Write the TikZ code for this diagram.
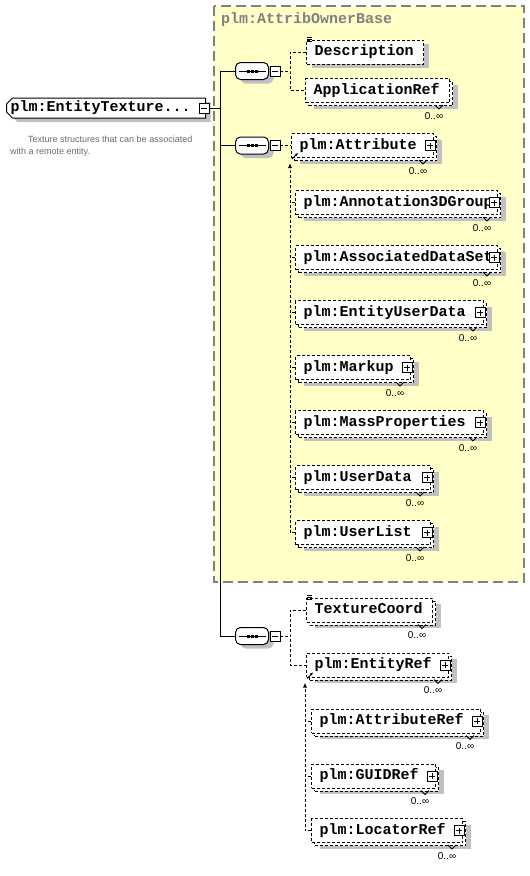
\documentclass[tikz,border=0pt]{standalone}
\usepackage{fontspec}
\setmainfont{Liberation Sans}
\newfontfamily\elemfont[HyphenChar=None]{Liberation Mono}
\usepackage{tikz}
\usetikzlibrary{positioning, shapes.misc, calc, arrows.meta}

\definecolor{groupfill}{RGB}{255,255,200}
\definecolor{groupline}{RGB}{128,128,128}
\definecolor{shadegray}{RGB}{192,192,192}
\definecolor{doctext}{RGB}{105,105,105}

\begin{document}
\begin{tikzpicture}[x=1pt, y=-1pt]
	\tikzstyle{elem}=[draw, dash pattern=on 3pt off 2pt, line width=1pt, fill=white, minimum height=24pt, inner xsep=8pt, inner ysep=0pt, text height=10pt, text depth=3pt, anchor=west, align=left, font=\elemfont\bfseries\fontsize{15}{15}\selectfont]
	\tikzstyle{single}=[preaction={fill=shadegray, draw=none, transform canvas={shift={(5pt,-4pt)}}}]
	\tikzstyle{multi}=[preaction={fill=shadegray, draw=none, transform canvas={shift={(8pt,-6pt)}}}, preaction={draw, fill=white, dash pattern=on 3pt off 2pt, line width=1pt, transform canvas={shift={(3pt,-3pt)}}}]
	\tikzstyle{rootbox}=[chamfered rectangle, chamfered rectangle corners={north west,south west}, chamfered rectangle xsep=3pt, chamfered rectangle ysep=3pt, draw, solid, line width=1pt, fill=white, anchor=west, minimum width=199pt, minimum height=20pt, inner sep=0pt, font=\elemfont\bfseries\fontsize{15}{15}\selectfont, preaction={fill=shadegray, draw=none, transform canvas={shift={(5pt,-4pt)}}}]
	\tikzstyle{seq}=[rectangle, rounded corners=5pt, draw, solid, line width=1pt, fill=white, minimum width=33pt, minimum height=17pt, inner sep=0pt, preaction={fill=shadegray, draw=none, transform canvas={shift={(5pt,-4pt)}}}, path picture={\draw[black, line width=1pt, sharp corners] ([xshift=3pt]path picture bounding box.west) -- ([xshift=-3pt]path picture bounding box.east); \foreach \dx in {-4,0,4} \fill[black, sharp corners] ([xshift=\dx pt-1.5pt, yshift=-1.5pt]path picture bounding box.center) rectangle +(3pt,3pt);}]
	\tikzstyle{pmbox}=[draw, solid, line width=0.8pt, fill=white, minimum size=10pt, inner sep=0pt]
	\tikzstyle{minusbox}=[pmbox, path picture={\draw[line width=0.8pt] ([xshift=2pt]path picture bounding box.west) -- ([xshift=-2pt]path picture bounding box.east);}]
	\tikzstyle{plusbox}=[pmbox, path picture={\draw[line width=0.8pt] ([xshift=2pt]path picture bounding box.west) -- ([xshift=-2pt]path picture bounding box.east) ([yshift=2pt]path picture bounding box.south) -- ([yshift=-2pt]path picture bounding box.north);}]
	\tikzstyle{line}=[solid, line width=1pt]
	\tikzstyle{conn}=[dash pattern=on 3pt off 2pt, line width=1pt]
	\tikzstyle{subst}=[conn, -{Latex[length=5pt,width=4pt]}]
	\tikzstyle{subarrow}=[solid, line width=0.8pt, -{Latex[length=3pt,width=3pt]}]
	\tikzstyle{mult}=[font=\fontsize{10}{10}\selectfont, inner sep=0pt]
	\tikzstyle{notch}=[solid, line width=0.8pt]
	\tikzstyle{doc}=[font=\fontsize{9}{12}\selectfont, text=doctext, align=left, inner sep=0pt, anchor=north west]

	\useasboundingbox (0,0) rectangle (530,876);

	% base type
	\draw[fill=groupfill, draw=groupline, line width=1.5pt, dash pattern=on 10pt off 5pt] (214,6) rectangle (524,582);
	\node[anchor=west, inner sep=0pt, text=groupline, font=\elemfont\bfseries\fontsize{15}{15}\selectfont] (gtitle) at (221,20) {plm:AttribOwnerBase};

	% root
	\node[rootbox] (root) at (6,108) {\makebox[191pt][l]{plm:EntityTexture...}};
	\node[minusbox] (rootm) at (204,108) {};
	\node[doc] (rootdoc) at (10,136) {\hspace*{18pt}Texture structures that can be associated\\with a remote entity.};

	% sequences
	\node[seq] (s1) at (252,71) {};
	\node[minusbox] (s1m) at (275,71) {};
	\node[seq] (s2) at (252,145.5) {};
	\node[minusbox] (s2m) at (275,145.5) {};
	\node[seq] (s3) at (252,636) {};
	\node[minusbox] (s3m) at (275,636) {};

	% elements
	\node[elem, single, text width=101pt] (desc) at (306,52) {Description};
	\node[elem, multi, text width=128pt] (appref) at (305,90.5) {ApplicationRef};
	\node[elem, multi, text width=126pt] (attr) at (291,145.5) {plm:Attribute};
	\node[elem, multi, text width=186pt] (anno) at (295,202.5) {plm:Annotation3DGroup};
	\node[elem, multi, text width=186pt] (assoc) at (295,257.5) {plm:AssociatedDataSet};
	\node[elem, multi, text width=172pt] (eud) at (295,312.5) {plm:EntityUserData};
	\node[elem, multi, text width=99pt] (markup) at (295,367.5) {plm:Markup};
	\node[elem, multi, text width=172pt] (mass) at (295,422.5) {plm:MassProperties};
	\node[elem, multi, text width=119pt] (udata) at (295,477.5) {plm:UserData};
	\node[elem, multi, text width=119pt] (ulist) at (295,532.5) {plm:UserList};
	\node[elem, multi, text width=110pt] (tcoord) at (306,610) {TextureCoord};
	\node[elem, multi, text width=126pt] (eref) at (306,665) {plm:EntityRef};
	\node[elem, multi, text width=153pt] (aref) at (311,721) {plm:AttributeRef};
	\node[elem, multi, text width=108pt] (gref) at (311,776) {plm:GUIDRef};
	\node[elem, multi, text width=135pt] (lref) at (311,830.5) {plm:LocatorRef};

	\foreach \e in {attr,anno,assoc,eud,markup,mass,udata,ulist,eref,aref,gref,lref}
		\node[plusbox] (\e-p) at ([xshift=-4pt]\e.east) {};
	\foreach \e in {appref,attr,anno,assoc,eud,markup,mass,udata,ulist,tcoord,eref,aref,gref,lref}{
		\node[mult] (\e-m) at ([xshift=-16pt,yshift=-13pt]\e.south east) {0..∞};
		\draw[notch] ([xshift=-15pt,yshift=-2pt]\e.south east) -- ++(4,4) -- ++(4,-4);
	}
	\foreach \e in {desc,tcoord}
		\foreach \dy in {-2,0,2}
			\draw[solid, line width=0.7pt] ($(\e.north west)+(1,\dy)$) -- ++(5,0);

	% connectors
	\coordinate (t1) at (220,71);
	\coordinate (t3) at (220,636);
	\coordinate (b1) at (290,71);
	\coordinate (b3) at (290,636);
	\draw[line] (rootm.east) -- (rootm.east -| t1);
	\draw[line] (t1) -- (t3);
	\draw[line] (t1) -- (s1.west);
	\draw[line] (s2.west -| t1) -- (s2.west);
	\draw[line] (t3) -- (s3.west);
	\draw[conn] (s1m.east) -- (b1);
	\draw[conn] (desc.west) -| (b1) |- (appref.west);
	\draw[conn] (s2m.east) -- (attr.west);
	\draw[conn] (s3m.east) -- (b3);
	\draw[conn] (tcoord.west) -| (b3) |- (eref.west);

	% substitution groups
	\coordinate (sub2) at ($(attr.south west)+(-1,5)$);
	\draw[subst] (ulist.west) -| (sub2);
	\foreach \e in {anno,assoc,eud,markup,mass,udata}
		\draw[conn] (\e.west) -- (\e.west -| sub2);
	\draw[subarrow] ($(attr.south west)+(1,1)$) -- ++(6,-6);
	\coordinate (sub3) at ($(eref.south west)+(-1,5)$);
	\draw[subst] (lref.west) -| (sub3);
	\foreach \e in {aref,gref}
		\draw[conn] (\e.west) -- (\e.west -| sub3);
	\draw[subarrow] ($(eref.south west)+(1,1)$) -- ++(6,-6);
\end{tikzpicture}
\end{document}
